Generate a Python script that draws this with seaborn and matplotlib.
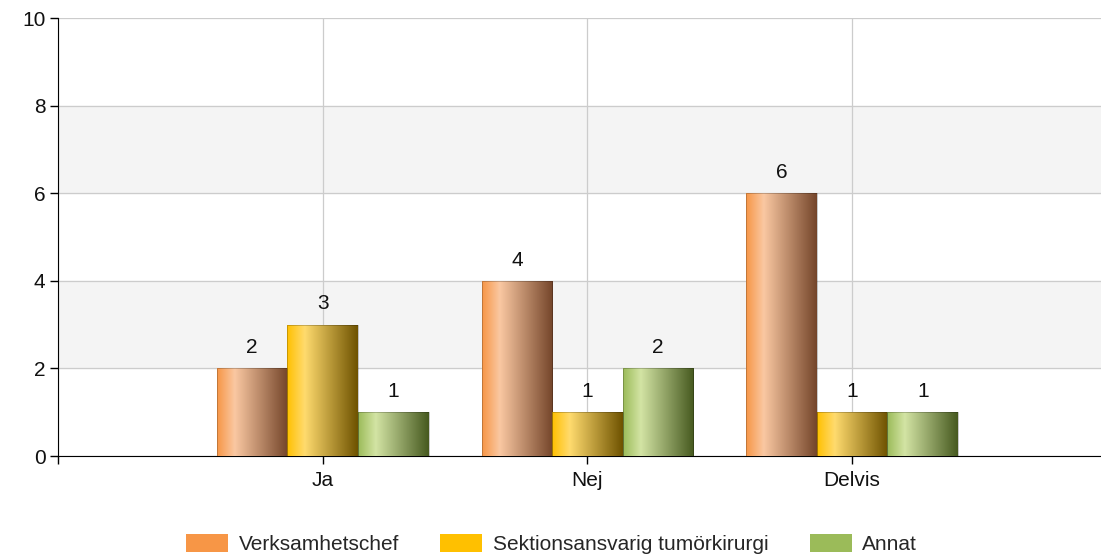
import numpy as np
import pandas as pd
import matplotlib
matplotlib.use('Agg')
import matplotlib.pyplot as plt
from matplotlib.colors import LinearSegmentedColormap
from matplotlib.patches import Patch
import seaborn as sns

svar = ['Ja', 'Nej', 'Delvis']
roller = ['Verksamhetschef', 'Sektionsansvarig tumörkirurgi', 'Annat']
verksamhetschef = [2, 4, 6]
sektionsansvarig = [3, 1, 1]
annat = [1, 2, 1]

# base / highlight / shadow for the gradient fill of each series
bas = ['#F79646', '#FFC000', '#9BBB59']
ljus = ['#FAC8A2', '#FFDB6E', '#D3E4A4']
mork = ['#74452A', '#6E5200', '#46591F']

df = pd.DataFrame({
    'svar': svar * 3,
    'roll': [roller[0]] * 3 + [roller[1]] * 3 + [roller[2]] * 3,
    'antal': verksamhetschef + sektionsansvarig + annat,
})

sns.set_style('white')
plt.rcParams['font.family'] = ['Liberation Sans', 'DejaVu Sans']

fig = plt.figure(figsize=(11.01, 5.56), dpi=100)
ax = fig.add_axes([58 / 1101, 100 / 556, 1 - 58 / 1101, 438 / 556])

sns.barplot(data=df, x='svar', y='antal', hue='roll', order=svar, hue_order=roller,
            palette=bas, width=0.8, ax=ax, legend=False, zorder=3)

# horizontal gradient on each bar
grad = np.linspace(0, 1, 256).reshape(1, -1)
for container, b, l, m in zip(ax.containers, bas, ljus, mork):
    cmap = LinearSegmentedColormap.from_list('g', [(0, b), (0.25, l), (1, m)])
    for patch in container:
        x0, w, h = patch.get_x(), patch.get_width(), patch.get_height()
        im = ax.imshow(grad, cmap=cmap, extent=[x0, x0 + w, 0, h], aspect='auto',
                       origin='lower', zorder=3.5)
        im.set_clip_path(patch)
        patch.set_edgecolor((0, 0, 0, 0.25))
        patch.set_linewidth(0.6)
        patch.set_zorder(4)
        patch.set_facecolor('none')
    ax.bar_label(container, padding=8, fontsize=15, color='#111111')

ax.axhspan(2, 4, color='#F4F4F4', zorder=0)
ax.axhspan(6, 8, color='#F4F4F4', zorder=0)

ax.set_xlim(-1, 2.94)
ax.set_ylim(0, 10)
ax.set_xticks([-1, 0, 1, 2], ['', 'Ja', 'Nej', 'Delvis'])
ax.set_yticks([0, 2, 4, 6, 8, 10])
ax.grid(True, color='#CCCCCC', linewidth=0.9, zorder=1)
ax.set_axisbelow(True)
ax.tick_params(axis='both', direction='out', length=6, width=1, color='black',
               labelsize=15, labelcolor='#111111', bottom=True, left=True)
ax.tick_params(axis='x', pad=5)
ax.tick_params(axis='y', pad=3)
ax.set_xlabel('')
ax.set_ylabel('')
sns.despine(ax=ax, top=True, right=True)
ax.spines['left'].set_color('black')
ax.spines['bottom'].set_color('black')

handles = [Patch(facecolor=c, edgecolor='none') for c in bas]
fig.legend(handles, roller, loc='lower center', bbox_to_anchor=(0.501, -0.031), ncol=3,
           frameon=False, fontsize=15, handlelength=2.0, handleheight=0.95,
           columnspacing=2.0, handletextpad=0.5)

fig.savefig('out.png', dpi=100)
